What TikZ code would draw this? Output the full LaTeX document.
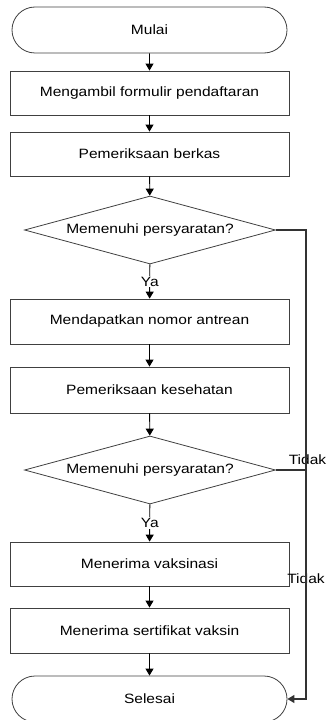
\documentclass[tikz,border=0pt]{standalone}
\usepackage{fontspec}
\setmainfont[FakeStretch=1.15]{Liberation Sans}
\usetikzlibrary{shapes.geometric,shapes.misc,arrows.meta}
\begin{document}
\begin{tikzpicture}[x=1bp,y=-1bp,
  every node/.style={font=\fontsize{13.5bp}{15bp}\selectfont, inner sep=0pt},
  term/.style={rounded rectangle, draw=black!75, line width=0.8bp, minimum width=275bp, minimum height=46bp},
  proc/.style={rectangle, draw=black!75, line width=0.8bp, minimum width=279bp},
  dec/.style={diamond, draw=black!75, line width=0.8bp, minimum width=251bp, minimum height=68bp, shape aspect=3.7},
  flow/.style={draw=black, line width=0.9bp, -{Triangle[width=8bp,length=7bp]}},
  side/.style={draw=black!80, line width=1.2bp},
  lbl/.style={fill=white, inner sep=1bp}]
\useasboundingbox (0,0) rectangle (325,720);
\node[term] (start) at (149.5,30) {Mulai};
\node[proc, minimum height=44bp] (b1) at (149.5,93) {Mengambil formulir pendaftaran};
\node[proc, minimum height=44bp] (b2) at (149.5,154) {Pemeriksaan berkas};
\node[dec] (d1) at (150,230) {Memenuhi persyaratan?};
\node[proc, minimum height=45bp] (b3) at (149.5,321.5) {Mendapatkan nomor antrean};
\node[proc, minimum height=46bp] (b4) at (149.5,390) {Pemeriksaan kesehatan};
\node[dec] (d2) at (150,470) {Memenuhi persyaratan?};
\node[proc, minimum height=44bp] (b5) at (149.5,564) {Menerima vaksinasi};
\node[proc, minimum height=45bp] (b6) at (149.5,630.5) {Menerima sertifikat vaksin};
\node[term] (end) at (149.5,699) {Selesai};
\coordinate (r1) at (306,230);
\coordinate (r2) at (306,470);
\coordinate (r3) at (306,699);
\node (t1) at (307.5,460) {Tidak};
\node (t2) at (306,579) {Tidak};

\draw[flow] (start) -- (b1);
\draw[flow] (b1) -- (b2);
\draw[flow] (b2) -- (d1);
\draw[flow] (d1) -- node[lbl] (ya1) {Ya} (b3);
\draw[flow] (b3) -- (b4);
\draw[flow] (b4) -- (d2);
\draw[flow] (d2) -- node[lbl] (ya2) {Ya} (b5);
\draw[flow] (b5) -- (b6);
\draw[flow] (b6) -- (end);
\draw[side] (d1.east) -- (r1) -- (r2);
\draw[side] (d2.east) -- (r2);
\draw[side, -{Triangle[width=8bp,length=7bp]}] (r2) -- (r3) -- (end.east);
\end{tikzpicture}
\end{document}
